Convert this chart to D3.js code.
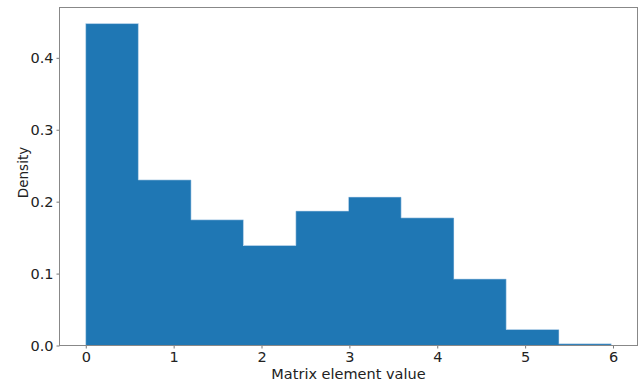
<!DOCTYPE html>
<html>
<head>
<meta charset="utf-8">
<script src="https://cdn.jsdelivr.net/npm/d3@7"></script>
<style>
  html, body { margin: 0; padding: 0; background: #fff; }
  svg { display: block; font-family: "DejaVu Sans", sans-serif; }
</style>
</head>
<body>
<svg id="chart" width="641" height="382"></svg>
<script>
// Histogram of matrix element values (density-normalised)
const binEdges = [0, 0.598, 1.196, 1.794, 2.392, 2.99, 3.588, 4.186, 4.784, 5.382, 5.98];
const densities = [0.4476, 0.230, 0.1746, 0.139, 0.1866, 0.206, 0.1773, 0.0921, 0.0222, 0.0023];
const xTicks = [0, 1, 2, 3, 4, 5, 6];
const yTicks = [0.0, 0.1, 0.2, 0.3, 0.4];
const xLabel = "Matrix element value";
const yLabel = "Density";

const width = 641, height = 382;
const margin = { left: 59.5, right: 3.5, top: 7.5, bottom: 36.5 };
const plotW = width - margin.left - margin.right;
const plotH = height - margin.top - margin.bottom;

const bins = densities.map((d, i) => ({ x0: binEdges[i], x1: binEdges[i + 1], value: d }));

// axis limits with 5% padding, as in the usual autoscale
const xMin = binEdges[0], xMax = binEdges[binEdges.length - 1];
const xPad = (xMax - xMin) * 0.05;
const x = d3.scaleLinear().domain([xMin - xPad, xMax + xPad]).range([margin.left, margin.left + plotW]);
const y = d3.scaleLinear().domain([0, d3.max(densities) * 1.05]).range([margin.top + plotH, margin.top]);

const svg = d3.select("#chart");
const barColor = "#1f77b4";

// bars
svg.append("g")
  .selectAll("rect")
  .data(bins)
  .join("rect")
  .attr("x", d => x(d.x0))
  .attr("y", d => y(d.value))
  .attr("width", d => x(d.x1) - x(d.x0))
  .attr("height", d => y(0) - y(d.value))
  .attr("fill", barColor)
  .attr("shape-rendering", "crispEdges");

// soft outline of the histogram
const outline = [[x(bins[0].x0), y(0)]];
bins.forEach(b => { outline.push([x(b.x0), y(b.value)]); outline.push([x(b.x1), y(b.value)]); });
outline.push([x(bins[bins.length - 1].x1), y(0)]);
svg.append("path")
  .attr("d", d3.line()(outline))
  .attr("fill", "none")
  .attr("stroke", "#7fb0d8")
  .attr("stroke-width", 0.8)
  .attr("opacity", 0.8);

// axes
const xAxis = d3.axisBottom(x).tickValues(xTicks).tickFormat(d3.format("d")).tickSize(3).tickPadding(3);
const yAxis = d3.axisLeft(y).tickValues(yTicks).tickFormat(d3.format(".1f")).tickSize(3).tickPadding(3);

const gx = svg.append("g").attr("transform", `translate(0,${margin.top + plotH})`).call(xAxis);
const gy = svg.append("g").attr("transform", `translate(${margin.left},0)`).call(yAxis);
[gx, gy].forEach(g => {
  g.select(".domain").remove();
  g.selectAll(".tick line").attr("stroke", "#555").attr("stroke-width", 0.8);
  g.selectAll(".tick text").attr("fill", "#222").style("font-size", "14.5px").style("font-family", "DejaVu Sans, sans-serif");
});

// frame
svg.append("rect")
  .attr("x", margin.left)
  .attr("y", margin.top)
  .attr("width", plotW)
  .attr("height", plotH)
  .attr("fill", "none")
  .attr("stroke", "#888")
  .attr("stroke-width", 1);

// axis titles
svg.append("text")
  .attr("x", margin.left + plotW / 2)
  .attr("y", 379)
  .attr("text-anchor", "middle")
  .attr("fill", "#222")
  .style("font-size", "14.5px")
  .text(xLabel);

svg.append("text")
  .attr("transform", `translate(28,${margin.top + plotH / 2 - 4}) rotate(-90)`)
  .attr("text-anchor", "middle")
  .attr("fill", "#222")
  .style("font-size", "13.5px")
  .text(yLabel);
</script>
</body>
</html>
